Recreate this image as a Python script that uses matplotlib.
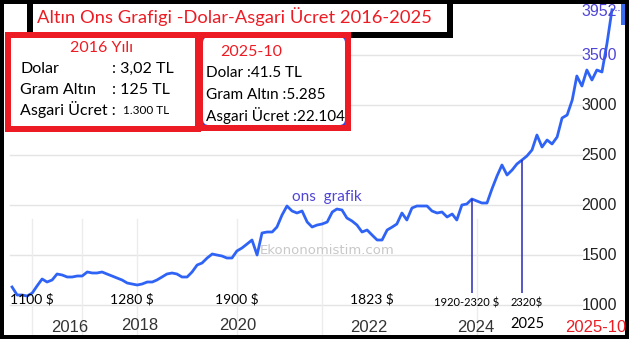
import matplotlib
matplotlib.use("Agg")
import matplotlib.pyplot as plt
from matplotlib.patches import Rectangle, FancyBboxPatch
import pandas as pd

# monthly ounce gold price (USD), Oct 2015 - Oct 2025
prices = [1180, 1100, 1100, 1090, 1120, 1190, 1260, 1230, 1250, 1310,
          1300, 1280, 1280, 1290, 1290, 1330, 1320, 1320, 1330, 1310,
          1290, 1270, 1250, 1220, 1210, 1200, 1210, 1230, 1230, 1250,
          1280, 1310, 1320, 1310, 1280, 1280, 1330, 1400, 1420, 1470,
          1510, 1500, 1490, 1470, 1470, 1540, 1570, 1610, 1650, 1500,
          1720, 1730, 1730, 1780, 1900, 1990, 1940, 1920, 1940, 1830,
          1780, 1800, 1810, 1830, 1930, 1960, 1950, 1870, 1840, 1800,
          1730, 1750, 1700, 1650, 1650, 1750, 1780, 1810, 1920, 1850,
          1970, 1990, 1990, 1990, 1940, 1920, 1930, 1880, 1910, 1850,
          2000, 2010, 2060, 2040, 2020, 2020, 2160, 2290, 2400, 2300,
          2350, 2410, 2450, 2490, 2550, 2700, 2580, 2650, 2610, 2680,
          2870, 2900, 3050, 3290, 3190, 3350, 3250, 3350, 3330, 3620,
          3952]
dates = pd.date_range("2015-10-01", periods=len(prices), freq="MS")

ytick_vals = [1000, 1500, 2000, 2500, 3000, 3500, 3952]
year_labels = ["2016", "2018", "2020", "2022", "2024", "2025", "2025-10"]

annot_labels = ["1100 $", "1280 $", "1900 $", "1823 $", "1920-2320 $", "2320$"]
annot_idx = [4, 24, 45, 72, 91, 103]
marker_idx = [92, 102]

title = "Altın Ons Grafigi -Dolar-Asgari Ücret 2016-2025"
box1_title = "2016 Yılı"
box1_keys = ["Dolar", "Gram Altın", "Asgari Ücret :"]
box1_vals = [": 3,02 TL", ": 125 TL", "1.300 TL"]
box2_title = "2025-10"
box2_rows = ["Dolar :41.5 TL", "Gram Altın :5.285", "Asgari Ücret :22.104"]

W, H = 629, 339
RED = "#ed1c24"
BLUE = "#2f63f5"
PURPLE = "#4f45d6"


def fx(x):
    return x / W


def fy(y):
    return 1 - y / H


def px(p):
    return p * 0.72


fig = plt.figure(figsize=(W / 100, H / 100), dpi=100)
ax = fig.add_axes([fx(4), 4 / H, 618 / W, 331 / H])
ax.set_xlim(pd.Timestamp("2015-08-13"), pd.Timestamp("2025-12-01"))
ax.set_ylim(700, 4010)
for s in ax.spines.values():
    s.set_visible(False)
ax.set_xticks([])
ax.set_yticks([])

# grid
for v in ytick_vals[:-1]:
    ax.axhline(v, xmin=0.01, xmax=0.935, color="#e4e4e4", lw=1, zorder=0)
for i in [4, 14, 25, 45, 62, 93]:
    ax.axvline(dates[i], ymin=0.0, ymax=0.35, color="#ececec", lw=1, zorder=0)

ax.plot(dates, prices, color=BLUE, lw=2, zorder=3)

# y labels on the right
for v in ytick_vals:
    col = PURPLE if v >= 3500 else "#222222"
    ax.text(0.992, v - (20 if v == 3952 else 0), str(v),
            transform=ax.get_yaxis_transform(), ha="right",
            va="center", fontsize=11.5, color=col, family="Liberation Sans")
ax.plot([dates[-1], dates[-1] + pd.Timedelta(days=40)], [ytick_vals[-1]] * 2,
        color=PURPLE, lw=0.8, ls=":")

# vertical marker lines
for i in marker_idx:
    ax.vlines(dates[i], 1120, prices[i], color="#2a2ab8", lw=1.1, zorder=4)

# price notes
for lab, i in zip(annot_labels, annot_idx):
    small = "-" in lab or lab.endswith("0$")
    ax.text(dates[i], 1020 if small else 1060, lab, ha="center", va="center",
            fontsize=8 if small else 10, family="Lato", color="black", zorder=5)

ax.text(dates[63], 2080, "ons  grafik", ha="center", va="center",
        fontsize=11, family="Lato", color=PURPLE)
ax.text(dates[63], 1550, "Ekononomistim.com", ha="center", va="center",
        fontsize=9.5, color="#c8c8c8")

# x year labels
year_px = [70, 140, 238, 369, 476, 527, 596]
year_py = [328, 325, 326, 327, 327, 324, 327]
for lab, x, y in zip(year_labels, year_px, year_py):
    if lab == "2025":
        fig.text(fx(x), fy(y), lab, ha="center", va="center", fontsize=10.5,
                 family="Lato", color="black", zorder=10)
    else:
        fig.text(fx(x), fy(y), lab, ha="center", va="center", fontsize=12,
                 family="Liberation Sans",
                 color=RED if lab == "2025-10" else "#333333", zorder=10)

# title box
fig.add_artist(Rectangle((fx(30), fy(34.5)), fx(449.5 - 30), (34.5 + 3) / H,
                         transform=fig.transFigure, facecolor="white",
                         edgecolor="black", lw=px(6), zorder=6))
fig.text(fx(37), fy(17), title, ha="left", va="center", fontsize=13.2,
         family="Lato", color=RED, zorder=8)

# box 1
fig.add_artist(Rectangle((fx(8), fy(129)), fx(198 - 8), (129 - 35) / H,
                         transform=fig.transFigure, facecolor="white",
                         edgecolor=RED, lw=px(6), zorder=6))
fig.text(fx(102), fy(48), box1_title, ha="center", va="center", fontsize=11.5,
         family="Lato", color=RED, zorder=8)
for k, v, y in zip(box1_keys, box1_vals, [69, 90, 110]):
    fig.text(fx(20), fy(y), k, ha="left", va="center", fontsize=11.5,
             family="Lato", color="black", zorder=8)
    small = v.startswith("1.")
    fig.text(fx(123 if small else 112), fy(y), v, ha="left", va="center",
             fontsize=8.5 if small else 11.5, family="Lato", color="black",
             zorder=8)

# box 2
fig.add_artist(Rectangle((fx(203), fy(125)), fx(346 - 203), (125 - 37) / H,
                         transform=fig.transFigure, facecolor="#4040d0",
                         edgecolor="none", zorder=6))
fig.add_artist(FancyBboxPatch((fx(203), fy(125)), fx(345 - 203), (125 - 37) / H,
                              boxstyle="round,pad=0.0,rounding_size=0.009",
                              mutation_aspect=W / H,
                              transform=fig.transFigure, facecolor="white",
                              edgecolor="none", zorder=6.5))
fig.add_artist(Rectangle((fx(200), fy(127.5)), fx(348 - 200), (127.5 - 35) / H,
                         transform=fig.transFigure, facecolor="none",
                         edgecolor=RED, lw=px(6), zorder=7))
fig.text(fx(251), fy(52), box2_title, ha="center", va="center", fontsize=11.5,
         family="Lato", color=RED, zorder=8)
for row, y in zip(box2_rows, [73, 95, 116]):
    fig.text(fx(206), fy(y), row, ha="left", va="center", fontsize=11,
             family="Lato", color="black", zorder=8)

# outer black frame
fig.add_artist(Rectangle((0, 0), 1, 1, transform=fig.transFigure,
                         facecolor="none", edgecolor="black", lw=px(8),
                         zorder=9))
fig.add_artist(Rectangle((fx(621), fy(25)), fx(4), 21 / H,
                         transform=fig.transFigure, facecolor="#3a6df0",
                         edgecolor="none", zorder=9))

fig.savefig("out.png", dpi=100)
